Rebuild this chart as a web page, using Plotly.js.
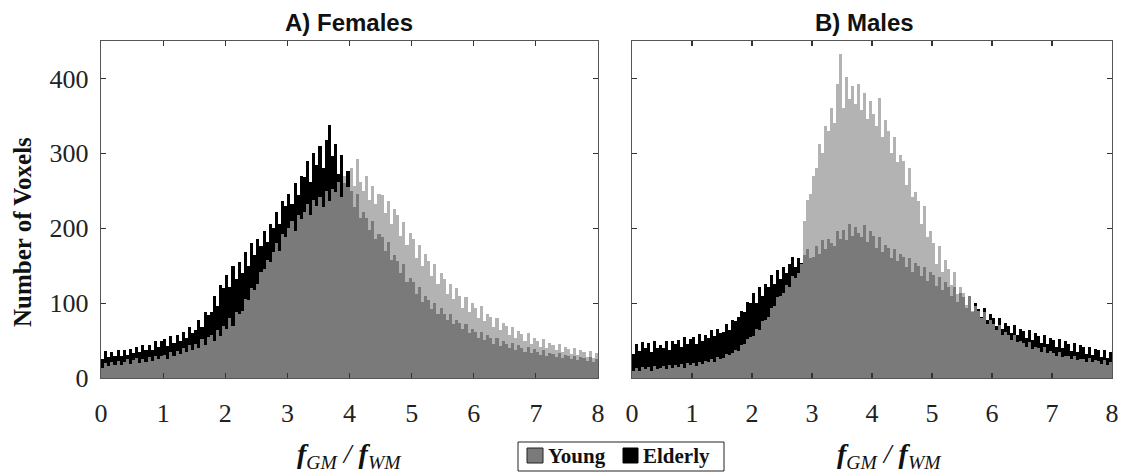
<!DOCTYPE html>
<html>
<head>
<meta charset="utf-8">
<script src="https://cdn.plot.ly/plotly-3.0.1.min.js"></script>
<style>html,body{margin:0;padding:0;background:#fff;}#chart{width:1141px;height:472px;}</style>
</head>
<body>
<div id="chart"></div>
<script>
// Histogram bins: 0..8 in steps of 0.05 (160 bins)
const binWidth = 0.05;
const nBins = 160;
const binCenters = Array.from({length: nBins}, (_, i) => +(binWidth * i + binWidth / 2).toFixed(3));

// A) Females
const femalesYoung = [14,20,16,22,17, 23,17,21,25,19, 24,27,20,26,22, 28,23,30,25,29, 31,26,35,29,36, 32,40,35,44,38, 46,40,52,44,55, 57,50,64,56,70, 66,80,70,88,86, 90,106,104,120,118, 126,142,145,158,155, 168,180,170,192,188, 200,210,196,218,212, 222,232,218,238,230, 242,228,250,236,252, 248,262,242,270,255, 280,256,292,262,250, 270,238,256,232,246, 244,220,236,206,226, 218,190,208,178,194, 186,160,178,150,166, 156,136,152,126,140, 132,112,126,106,120, 110,94,108,88,100, 94,80,96,76,86, 82,68,80,64,74, 70,58,68,54,63, 59,49,60,46,54, 50,42,52,40,47, 44,37,46,35,41, 39,32,40,31,37, 35,28,36,27,33];
const femalesElderly = [26,36,28,35,30, 37,29,38,31,39, 33,42,35,44,37, 44,37,49,41,50, 52,43,56,47,58, 50,62,54,68,60, 64,78,68,88,84, 88,110,96,124,120, 138,122,150,132,155, 140,168,150,180,164, 186,176,196,182,206, 200,222,206,236,230, 246,232,260,244,270, 268,290,262,300,284, 310,280,318,338,296, 312,272,298,260,276, 250,228,246,214,222, 214,198,210,186,192, 188,170,182,158,164, 156,140,152,128,134, 128,112,122,102,110, 104,92,100,86,94, 86,78,86,72,78, 73,65,72,60,66, 61,54,62,51,57, 53,46,54,43,49, 46,40,47,37,44, 40,35,42,33,39, 35,31,37,30,34, 32,28,34,27,31, 29,25,30,24,28, 27,23,28,22,26];

// B) Males
const malesYoung = [9,14,10,15,12, 15,10,16,12,13, 16,12,17,13,18, 15,19,14,20,17, 20,16,22,19,23, 21,26,22,28,25, 27,32,31,34,38, 36,44,46,52,55, 56,66,64,76,78, 82,94,96,108,110, 114,124,122,136,134, 140,152,210,238,246, 270,280,312,300,336, 330,360,340,392,432, 360,402,372,390,366, 392,358,380,346,370, 352,336,374,322,345, 330,300,322,288,298, 290,258,280,242,248, 236,206,230,188,196, 180,152,176,142,158, 146,124,142,112,122, 114,98,110,90,96, 90,80,88,72,78, 72,64,71,58,62, 58,51,58,48,50, 47,42,48,39,42, 40,35,41,33,36, 34,29,35,28,30, 29,25,30,24,26, 26,22,27,21,24, 23,19,24,18,21];
const malesElderly = [32,46,36,48,40, 47,35,50,40,44, 40,50,38,49,45, 51,42,55,45,52, 55,46,59,49,57, 54,64,56,66,60, 62,72,64,78,76, 82,90,88,102,100, 114,100,122,110,126, 122,138,126,144,132, 148,140,152,162,148, 160,154,164,172,160, 162,176,166,184,172, 186,180,176,196,186, 198,184,206,190,202, 194,188,204,182,196, 190,174,188,168,178, 174,160,172,156,166, 162,148,160,142,154, 150,136,148,130,142, 137,123,135,117,128, 122,109,121,102,114, 108,94,110,88,100, 92,81,94,77,86, 80,69,80,65,74, 70,60,71,57,65, 63,53,64,51,60, 56,47,58,45,54, 51,41,52,40,49, 45,36,47,35,44, 41,32,42,31,39, 37,28,38,27,35];

const xTicks = [0,1,2,3,4,5,6,7,8];
const yTicks = [0,100,200,300,400];

const COL_YOUNG_ONLY = '#b3b3b3';
const COL_OVERLAP = '#7a7a7a';
const COL_ELDERLY = '#000000';

function panel(young, elderly, xa, ya) {
  const overlap = young.map((v, i) => Math.min(v, elderly[i]));
  const common = {type: 'bar', x: binCenters, width: binWidth, xaxis: xa, yaxis: ya,
                  opacity: 1, hoverinfo: 'skip', showlegend: false};
  return [
    Object.assign({}, common, {name: 'Young', y: young, marker: {color: COL_YOUNG_ONLY, line: {width: 0}}}),
    Object.assign({}, common, {name: 'Elderly', y: elderly, marker: {color: COL_ELDERLY, line: {width: 0}}}),
    Object.assign({}, common, {name: 'Overlap', y: overlap, marker: {color: COL_OVERLAP, line: {width: 0}}})
  ];
}

const data = [].concat(panel(femalesYoung, femalesElderly, 'x', 'y'),
                       panel(malesYoung, malesElderly, 'x2', 'y2'));

const W = 1141, H = 472;
const px = v => v / W;
const py = v => (H - v) / H;

const serif = 'Liberation Serif, Times New Roman, serif';
const sans = 'Liberation Sans, Arial, sans-serif';

const axisStyle = {
  showline: true, linecolor: '#555', linewidth: 1.2, mirror: 'ticks',
  ticks: 'inside', ticklen: 5, tickwidth: 1.2, tickcolor: '#333',
  showgrid: false, zeroline: false, fixedrange: true,
  tickfont: {family: serif, size: 26, color: '#222'}
};

const xBase = Object.assign({}, axisStyle, {range: [0, 8], tickmode: 'array', tickvals: xTicks, ticktext: xTicks.map(String), ticklabelstandoff: 12});
const yBase = Object.assign({}, axisStyle, {range: [0, 450], tickmode: 'array', tickvals: yTicks, ticktext: yTicks.map(String), ticklabelstandoff: 6});

const xTitle = '<i><b>f</b><sub>GM</sub> / <b>f</b><sub>WM</sub></i>';

const layout = {
  width: W, height: H,
  margin: {l: 0, r: 0, t: 0, b: 0},
  paper_bgcolor: '#fff', plot_bgcolor: '#fff',
  barmode: 'overlay', bargap: 0,
  showlegend: false,
  xaxis: Object.assign({}, xBase, {domain: [px(101), px(598)], anchor: 'y'}),
  yaxis: Object.assign({}, yBase, {domain: [py(378), py(41)], anchor: 'x'}),
  xaxis2: Object.assign({}, xBase, {domain: [px(632), px(1112)], anchor: 'y2'}),
  yaxis2: Object.assign({}, yBase, {domain: [py(378), py(41)], anchor: 'x2', showticklabels: false}),
  annotations: [
    {text: '<b>A) Females</b>', x: px(349), y: py(23), xref: 'paper', yref: 'paper', xanchor: 'center', yanchor: 'middle', showarrow: false, font: {family: sans, size: 24, color: '#111'}},
    {text: '<b>B) Males</b>', x: px(864), y: py(23), xref: 'paper', yref: 'paper', xanchor: 'center', yanchor: 'middle', showarrow: false, font: {family: sans, size: 24, color: '#111'}},
    {text: '<b>Number of Voxels</b>', x: px(22), y: py(232), xref: 'paper', yref: 'paper', xanchor: 'center', yanchor: 'middle', textangle: -90, showarrow: false, font: {family: serif, size: 25, color: '#111'}},
    {text: xTitle, x: px(349), y: py(455), xref: 'paper', yref: 'paper', xanchor: 'center', yanchor: 'middle', showarrow: false, font: {family: serif, size: 28, color: '#111'}},
    {text: xTitle, x: px(889), y: py(455), xref: 'paper', yref: 'paper', xanchor: 'center', yanchor: 'middle', showarrow: false, font: {family: serif, size: 28, color: '#111'}},
    {text: '<b>Young</b>', x: px(546), y: py(456), xref: 'paper', yref: 'paper', xanchor: 'left', yanchor: 'middle', showarrow: false, font: {family: serif, size: 21, color: '#111'}},
    {text: '<b>Elderly</b>', x: px(641), y: py(456), xref: 'paper', yref: 'paper', xanchor: 'left', yanchor: 'middle', showarrow: false, font: {family: serif, size: 21, color: '#111'}}
  ],
  shapes: [
    {type: 'rect', xref: 'paper', yref: 'paper', x0: px(518), x1: px(724), y0: py(471), y1: py(442), line: {color: '#222', width: 1}, fillcolor: 'rgba(0,0,0,0)'},
    {type: 'rect', xref: 'paper', yref: 'paper', x0: px(527), x1: px(543), y0: py(463), y1: py(448), line: {color: '#222', width: 1}, fillcolor: COL_OVERLAP},
    {type: 'rect', xref: 'paper', yref: 'paper', x0: px(623), x1: px(638), y0: py(463), y1: py(448), line: {color: '#000', width: 1}, fillcolor: COL_ELDERLY}
  ]
};

Plotly.newPlot('chart', data, layout, {staticPlot: true, displayModeBar: false});
</script>
</body>
</html>
